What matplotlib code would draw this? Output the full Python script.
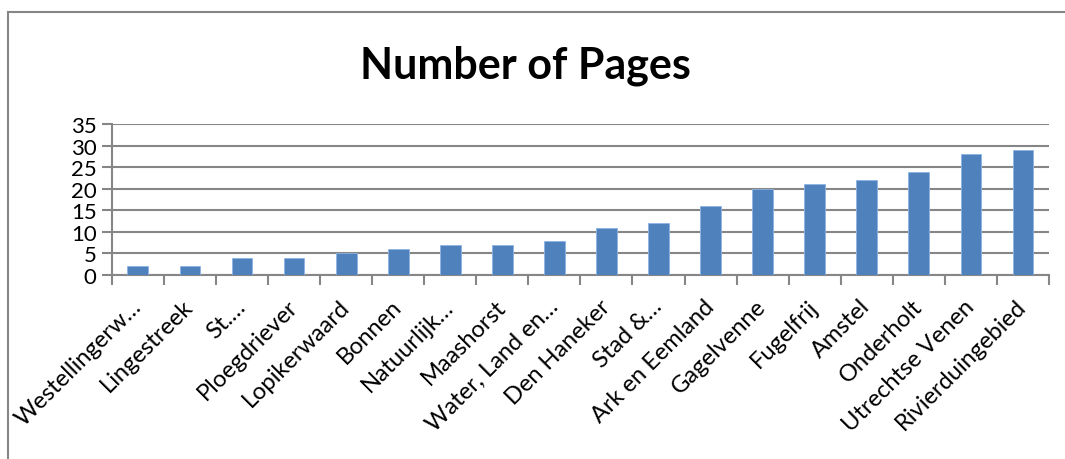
import numpy as np
import matplotlib.pyplot as plt
from matplotlib.lines import Line2D

# --------------------
# data
# --------------------

regions = [
    "Westellingerw…", "Lingestreek", "St.…", "Ploegdriever",
    "Lopikerwaard", "Bonnen", "Natuurlijk…", "Maashorst",
    "Water, Land en…", "Den Haneker", "Stad &…", "Ark en Eemland",
    "Gagelvenne", "Fugelfrij", "Amstel", "Onderholt",
    "Utrechtse Venen", "Rivierduingebied",
]
pages = [2, 2, 4, 4, 5, 6, 7, 7, 8, 11, 12, 16, 20, 21, 22, 24, 28, 29]
y_ticks = [0, 5, 10, 15, 20, 25, 30, 35]

plt.rcParams['font.family'] = ['Lato', 'DejaVu Sans']

grid_col = "#868686"
bar_col = "#4F81BD"

fig = plt.figure(figsize=(10.65, 4.6), dpi=100)
ax = fig.add_axes([0.105, 0.4, 0.88, 0.328])

x = np.arange(len(regions))
ax.bar(x, pages, width=0.4, color=bar_col, edgecolor="#8EB4E3",
       linewidth=0.6, zorder=3)

ax.set_xlim(-0.5, len(regions) - 0.5)
ax.set_ylim(0, 35)
ax.set_yticks(y_ticks)
ax.set_yticklabels([str(v) for v in y_ticks], fontsize=16)

# category boundaries get the tick marks, labels sit in the middle
ax.set_xticks(np.arange(len(regions) + 1) - 0.5)
ax.set_xticklabels([])
ax.set_xticks(x, minor=True)
ax.set_xticklabels(regions, minor=True, rotation=45, ha='right',
                   va='center', rotation_mode='anchor', fontsize=17)
ax.tick_params(axis='x', which='minor', length=0, pad=20)
ax.tick_params(axis='x', which='major', length=7, width=1.5,
               color=grid_col, direction='out')
ax.tick_params(axis='y', length=7, width=1.5, color=grid_col,
               direction='out', pad=4)

ax.yaxis.grid(True, color=grid_col, linewidth=1.5, zorder=0)
ax.set_axisbelow(True)

for side in ["top", "right"]:
    ax.spines[side].set_visible(False)
for side in ["left", "bottom"]:
    ax.spines[side].set_color(grid_col)
    ax.spines[side].set_linewidth(1.5)

fig.text(0.493, 0.858, "Number of Pages", ha='center', va='center',
         fontsize=31, fontweight='bold')

# chart frame (clipped on the right and bottom in the reference)
W, H = 1065, 460
fig.add_artist(Line2D([8 / W, 8 / W], [0, 1 - 13 / H],
                      transform=fig.transFigure, color=grid_col, lw=1.5))
fig.add_artist(Line2D([8 / W, 1], [1 - 13 / H, 1 - 13 / H],
                      transform=fig.transFigure, color=grid_col, lw=1.5))

plt.savefig("out.png", dpi=100)
